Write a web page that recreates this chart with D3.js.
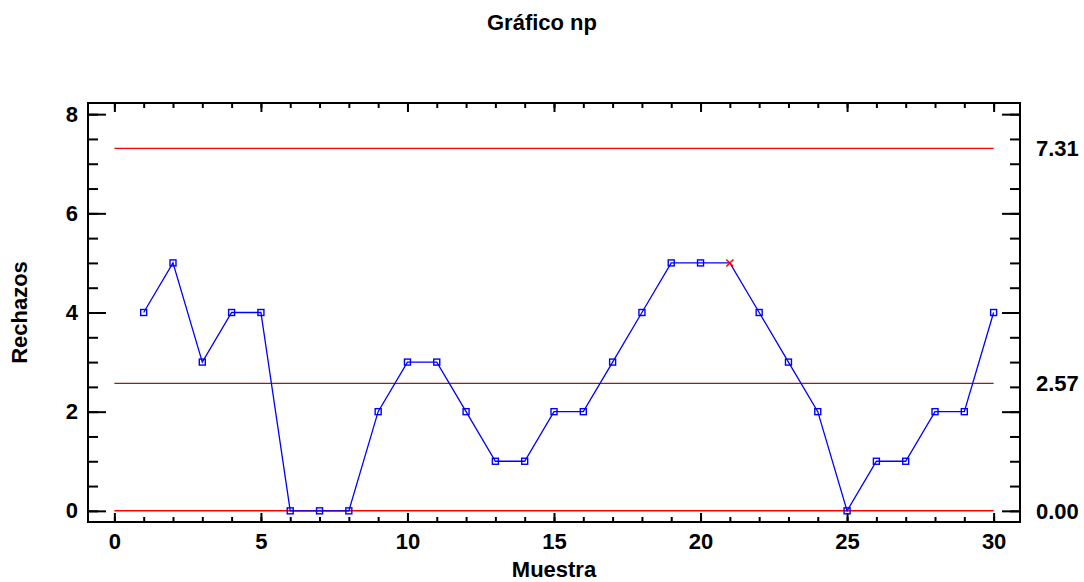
<!DOCTYPE html>
<html>
<head>
<meta charset="utf-8">
<script src="https://cdn.jsdelivr.net/npm/d3@7"></script>
<style>
  body { margin: 0; background: #fff; }
  svg { display: block; }
  text { font-family: "Liberation Sans", Arial, sans-serif; font-weight: bold; fill: #000; }
</style>
</head>
<body>
<svg id="chart" width="1084" height="582"></svg>
<script>
const samples = d3.range(1, 31);
const rejects = [4,5,3,4,4,0,0,0,2,3,3,2,1,1,2,2,3,4,5,5,5,4,3,2,0,1,1,2,2,4];
const flagged = [21];
const ucl = 7.31, center = 2.57, lcl = 0.00;
const limitLabels = ["7.31", "2.57", "0.00"];
const xMajorTicks = [0,5,10,15,20,25,30];
const xMinorTicks = d3.range(0, 31);
const yMajorTicks = [0,2,4,6,8];
const yMinorTicks = d3.range(0, 8.01, 0.5);

const W = 1084, H = 582;
const M = {left: 88, right: 1020, top: 103, bottom: 522};
const svg = d3.select("#chart");

const x = d3.scaleLinear().domain([-0.9, 30.9]).range([M.left, M.right]);
const y = d3.scaleLinear().domain([-0.225, 8.225]).range([M.bottom, M.top]);

const FS = 22;

// Title
svg.append("text").attr("x", 542).attr("y", 30).attr("text-anchor", "middle")
  .style("font-size", FS + "px").text("Gráfico np");

function styleAxis(g) {
  g.select(".domain").remove();
  g.selectAll(".tick line").attr("stroke", "#000").attr("stroke-width", 2);
  g.selectAll(".tick text").style("font-size", FS + "px").style("font-family", "'Liberation Sans', Arial, sans-serif").style("font-weight", "bold").attr("fill", "#000");
}
// left
svg.append("g").attr("transform", `translate(${M.left},0)`)
  .call(d3.axisLeft(y).tickValues(yMinorTicks).tickSizeInner(-10).tickSizeOuter(0).tickFormat(""))
  .call(styleAxis);
svg.append("g").attr("transform", `translate(${M.left},0)`)
  .call(d3.axisLeft(y).tickValues(yMajorTicks).tickSizeInner(-18).tickSizeOuter(0).tickPadding(10).tickFormat(d3.format("d")))
  .call(styleAxis);
// right
svg.append("g").attr("transform", `translate(${M.right},0)`)
  .call(d3.axisRight(y).tickValues(yMinorTicks).tickSizeInner(-10).tickSizeOuter(0).tickFormat(""))
  .call(styleAxis);
svg.append("g").attr("transform", `translate(${M.right},0)`)
  .call(d3.axisRight(y).tickValues(yMajorTicks).tickSizeInner(-18).tickSizeOuter(0).tickFormat(""))
  .call(styleAxis);
// bottom
svg.append("g").attr("transform", `translate(0,${M.bottom})`)
  .call(d3.axisBottom(x).tickValues(xMinorTicks).tickSizeInner(-5).tickSizeOuter(0).tickFormat(""))
  .call(styleAxis);
svg.append("g").attr("transform", `translate(0,${M.bottom})`)
  .call(d3.axisBottom(x).tickValues(xMajorTicks).tickSizeInner(-9).tickSizeOuter(0).tickPadding(11).tickFormat(d3.format("d")))
  .call(styleAxis);
// top
svg.append("g").attr("transform", `translate(0,${M.top})`)
  .call(d3.axisTop(x).tickValues(xMinorTicks).tickSizeInner(-5).tickSizeOuter(0).tickFormat(""))
  .call(styleAxis);
svg.append("g").attr("transform", `translate(0,${M.top})`)
  .call(d3.axisTop(x).tickValues(xMajorTicks).tickSizeInner(-9).tickSizeOuter(0).tickFormat(""))
  .call(styleAxis);

// Frame
svg.append("rect").attr("x", M.left).attr("y", M.top)
  .attr("width", M.right - M.left).attr("height", M.bottom - M.top)
  .attr("fill", "none").attr("stroke", "#000").attr("stroke-width", 2);

// Control lines
const limits = [
  {v: ucl, c: "#ff0000", w: 1.2},
  {v: center, c: "#a01818", w: 1.2},
  {v: lcl, c: "#ff0000", w: 1.5}
];
svg.selectAll(".limit").data(limits).enter().append("line")
  .attr("x1", x(0)).attr("x2", x(30))
  .attr("y1", d => y(d.v)).attr("y2", d => y(d.v))
  .attr("stroke", d => d.c).attr("stroke-width", d => d.w);

// right labels
svg.selectAll(".limlab").data([ucl, center, lcl]).enter().append("text")
  .attr("x", 1036).attr("y", d => y(d)).attr("dy", "0.35em")
  .style("font-size", FS + "px")
  .text((d, i) => limitLabels[i]);

// data line
const pts = samples.map((s, i) => ({s, v: rejects[i]}));
svg.append("path").datum(pts)
  .attr("fill", "none").attr("stroke", "#0000ff").attr("stroke-width", 1.3)
  .attr("d", d3.line().x(d => x(d.s)).y(d => y(d.v)));

// markers
svg.selectAll(".pt").data(pts.filter(d => !flagged.includes(d.s))).enter().append("rect")
  .attr("x", d => x(d.s) - 3).attr("y", d => y(d.v) - 3)
  .attr("width", 6).attr("height", 6)
  .attr("fill", "none").attr("stroke", "#0000ff").attr("stroke-width", 1.4);

const fl = pts.filter(d => flagged.includes(d.s));
const xs = svg.selectAll(".fl").data(fl).enter().append("g")
  .attr("transform", d => `translate(${x(d.s)},${y(d.v)})`);
xs.append("line").attr("x1", -3.5).attr("y1", -3.5).attr("x2", 3.5).attr("y2", 3.5).attr("stroke", "#ff0000").attr("stroke-width", 1.5);
xs.append("line").attr("x1", -3.5).attr("y1", 3.5).attr("x2", 3.5).attr("y2", -3.5).attr("stroke", "#ff0000").attr("stroke-width", 1.5);

// Axis titles
svg.append("text").attr("x", (M.left + M.right) / 2).attr("y", 577).attr("text-anchor", "middle")
  .style("font-size", FS + "px").text("Muestra");
svg.append("text").attr("transform", `translate(27,${(M.top + M.bottom) / 2}) rotate(-90)`)
  .attr("text-anchor", "middle").style("font-size", FS + "px").text("Rechazos");
</script>
</body>
</html>
